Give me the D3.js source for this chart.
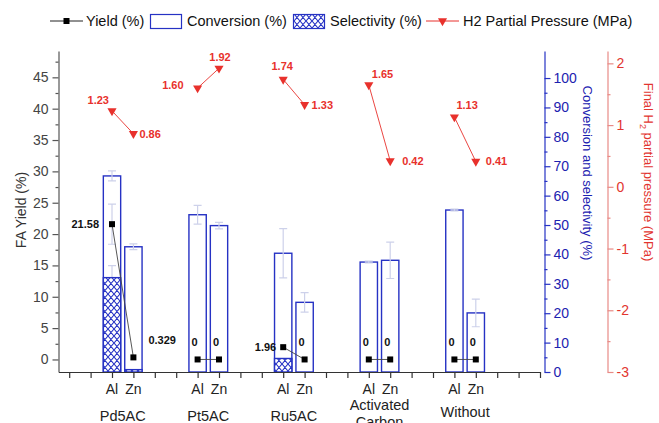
<!DOCTYPE html>
<html lang="en">
<head>
<meta charset="UTF-8">
<title>FA yield, conversion and H2 pressure</title>
<style>
body { margin: 0; background: #fff; }
svg { font-family: Arial, "Liberation Sans", sans-serif; }
</style>
</head>
<body>
<svg width="659" height="423"></svg>
<script src="https://cdn.jsdelivr.net/npm/d3@7/dist/d3.min.js"></script>
<script>

// data, one entry per catalyst group, each [Al, Zn]
var groups = ["Pd5AC", "Pt5AC", "Ru5AC", "Activated Carbon", "Without"];
var metals = ["Al", "Zn"];
var yieldVals = [[21.58, 0.329], [0, 0], [1.96, 0], [0, 0], [0, 0]];
var yieldErr = [[3.2, 0], [0, 0], [0, 0], [0, 0], [0, 0]];
var conversion = [[66.7, 42.6], [53.5, 49.8], [40.4, 23.7], [37.4, 38.0], [55.1, 20.1]];
var conversionErr = [[1.7, 1.0], [3.2, 1.1], [8.4, 3.3], [0.3, 6.2], [0.3, 4.7]];
var selectivity = [[32.1, 0.8], [0, 0], [4.6, 0], [0, 0], [0, 0]];
var selectivityErr = [[4.1, 0], [0, 0], [0, 0], [0, 0], [0, 0]];
var pressure = [[1.23, 0.86], [1.60, 1.92], [1.74, 1.33], [1.65, 0.42], [1.13, 0.41]];
var yieldLabels = [["21.58", "0.329"], ["0", "0"], ["1.96", "0"], ["0", "0"], ["0", "0"]];
var pressureLabels = [["1.23", "0.86"], ["1.60", "1.92"], ["1.74", "1.33"], ["1.65", "0.42"], ["1.13", "0.41"]];

var yieldTicks = d3.range(0, 46, 5);
var convTicks = d3.range(0, 101, 10);
var pressTicks = [-3, -2, -1, 0, 1, 2];

// label placement (dx, dy, anchor) per point
var yieldLabelPos = [[[-13, 0, "end"], [15, -17, "start"]], [[-6, -17, "start"], [-6, -17, "start"]],
                     [[-7, 0, "end"], [-6, -17, "start"]], [[-6, -17, "start"], [-6, -17, "start"]],
                     [[-6, -17, "start"], [-6, -17, "start"]]];
var pressLabelPos = [[[-3, -11, "end"], [6, 0, "start"]], [[-14, -3, "end"], [1, -11, "middle"]],
                     [[-1, -13, "middle"], [7, 0, "start"]], [[3, -11, "start"], [12, 0, "start"]],
                     [[2, -12, "start"], [10, 0, "start"]]];

var blue = "#2632c4", red = "#e8312c", errCol = "#cdd1ea";

var svg = d3.select("svg");
var plotTop = 51, plotBottom = 372;

var x = d3.scaleLinear().domain([-0.5, 22]).range([58.5, 540]);
var yL = d3.scaleLinear().domain([-2, 49.2]).range([plotBottom, plotTop]);
var yR = d3.scaleLinear().domain([0, 109.2]).range([plotBottom, plotTop]);
var yP = d3.scaleLinear().domain([-3, 2.2]).range([plotBottom, plotTop]);
var barW = 0.81 * (x(1) - x(0));

// flatten to points
var pts = [];
groups.forEach(function(g, gi) {
  metals.forEach(function(m, mi) {
    pts.push({g: gi, m: mi, pos: 2 + 4 * gi + mi,
      yield: yieldVals[gi][mi], yErr: yieldErr[gi][mi],
      conv: conversion[gi][mi], cErr: conversionErr[gi][mi],
      sel: selectivity[gi][mi], sErr: selectivityErr[gi][mi],
      p: pressure[gi][mi], yLab: yieldLabels[gi][mi], pLab: pressureLabels[gi][mi],
      yPos: yieldLabelPos[gi][mi], pPos: pressLabelPos[gi][mi]});
  });
});

var defs = svg.append("defs");
var pat = defs.append("pattern").attr("id", "hatch").attr("patternUnits", "userSpaceOnUse")
    .attr("width", 6).attr("height", 7);
pat.append("rect").attr("width", 6).attr("height", 7).attr("fill", "#fff");
pat.append("path").attr("d", "M0,0L6,7M6,0L0,7M-3,3.5L0,7M3,-3.5L6,0")
    .attr("stroke", blue).attr("stroke-width", 1.1).attr("fill", "none");

// conversion bars
svg.append("g").selectAll("rect").data(pts).enter().append("rect")
    .attr("x", function(d) { return x(d.pos) - barW / 2; })
    .attr("y", function(d) { return yR(d.conv); })
    .attr("width", barW)
    .attr("height", function(d) { return yR(0) - yR(d.conv); })
    .attr("fill", "#fff").attr("stroke", blue).attr("stroke-width", 1.4);

function errorBars(data, val, err, scale) {
  var g = svg.append("g").attr("stroke", errCol).attr("stroke-width", 1.2).attr("fill", "none");
  data = data.filter(function(d) { return d[err] > 0; });
  g.selectAll("path").data(data).enter().append("path")
    .attr("d", function(d) {
      var cx = x(d.pos), a = scale(d[val] + d[err]), b = scale(d[val] - d[err]);
      return "M" + (cx - 4) + "," + a + "H" + (cx + 4) + "M" + cx + "," + a + "V" + b +
             "M" + (cx - 4) + "," + b + "H" + (cx + 4);
    });
}
errorBars(pts, "conv", "cErr", yR);
errorBars(pts, "sel", "sErr", yR);

// selectivity hatch
svg.append("g").selectAll("rect").data(pts.filter(function(d) { return d.sel > 0; })).enter().append("rect")
    .attr("x", function(d) { return x(d.pos) - barW / 2; })
    .attr("y", function(d) { return yR(d.sel); })
    .attr("width", barW)
    .attr("height", function(d) { return yR(0) - yR(d.sel); })
    .attr("fill", "url(#hatch)").attr("stroke", blue).attr("stroke-width", 1.4);

errorBars(pts, "yield", "yErr", yL);

// yield lines and points
var yLine = d3.line().x(function(d) { return x(d.pos); }).y(function(d) { return yL(d.yield); });
var pLine = d3.line().x(function(d) { return x(d.pos); }).y(function(d) { return yP(d.p); });
groups.forEach(function(g, gi) {
  var gp = pts.filter(function(d) { return d.g === gi; });
  svg.append("path").attr("d", yLine(gp)).attr("stroke", "#444").attr("stroke-width", 0.9).attr("fill", "none");
  svg.append("path").attr("d", pLine(gp)).attr("stroke", red).attr("stroke-width", 0.9).attr("fill", "none");
});
svg.append("g").selectAll("rect").data(pts).enter().append("rect")
    .attr("x", function(d) { return x(d.pos) - 3; })
    .attr("y", function(d) { return yL(d.yield) - 3; })
    .attr("width", 6).attr("height", 6).attr("fill", "#000");

var tri = d3.symbol().type(d3.symbolTriangle).size(36);
svg.append("g").selectAll("path").data(pts).enter().append("path")
    .attr("d", tri)
    .attr("transform", function(d) { return "translate(" + x(d.pos) + "," + yP(d.p) + ") rotate(180)"; })
    .attr("fill", red);

// value labels
svg.append("g").attr("font-size", 11).attr("font-weight", "bold").attr("fill", "#111")
  .selectAll("text").data(pts).enter().append("text")
    .attr("x", function(d) { return x(d.pos) + d.yPos[0]; })
    .attr("y", function(d) { return yL(d.yield) + d.yPos[1]; })
    .attr("dy", "0.35em")
    .attr("text-anchor", function(d) { return d.yPos[2]; })
    .text(function(d) { return d.yLab; });
svg.append("g").attr("font-size", 11).attr("font-weight", "bold").attr("fill", red)
  .selectAll("text").data(pts).enter().append("text")
    .attr("x", function(d) { return x(d.pos) + d.pPos[0]; })
    .attr("y", function(d) { return yP(d.p) + d.pPos[1]; })
    .attr("dy", "0.35em")
    .attr("text-anchor", function(d) { return d.pPos[2]; })
    .text(function(d) { return d.pLab; });

// axes
function minor(ticks, step) { return ticks.map(function(t) { return t + step; }); }

function styleAxis(g, lineCol, textCol) {
  g.selectAll(".domain").attr("stroke", lineCol).attr("stroke-width", 1.2);
  g.selectAll(".tick line").attr("stroke", lineCol).attr("stroke-width", 1.2);
  g.selectAll(".tick text").attr("fill", textCol).attr("font-size", 14).attr("font-family", null);
}

var gL = svg.append("g").attr("transform", "translate(58.5,0)")
    .call(d3.axisLeft(yL).tickValues(yieldTicks).tickSize(6).tickSizeOuter(0).tickPadding(4));
styleAxis(gL, "#555", "#444");
svg.append("g").attr("transform", "translate(58.5,0)")
    .call(d3.axisLeft(yL).tickValues(minor(yieldTicks, 2.5)).tickSize(3).tickFormat(""))
    .call(function(g) { g.select(".domain").remove(); styleAxis(g, "#555", "#444"); });

var gX = svg.append("g").attr("transform", "translate(0," + plotBottom + ")")
    .call(d3.axisBottom(x).tickValues(d3.range(0, 23)).tickSize(6).tickSizeOuter(0).tickFormat(""));
styleAxis(gX, "#333", "#333");

var gB = svg.append("g").attr("transform", "translate(544.5,0)")
    .call(d3.axisRight(yR).tickValues(convTicks).tickSize(6).tickSizeOuter(0).tickPadding(3));
styleAxis(gB, blue, "#1c22b0");
svg.append("g").attr("transform", "translate(544.5,0)")
    .call(d3.axisRight(yR).tickValues(minor(convTicks.slice(0, 10), 5)).tickSize(3).tickFormat(""))
    .call(function(g) { g.select(".domain").remove(); styleAxis(g, blue, blue); });

var gP = svg.append("g").attr("transform", "translate(607.5,0)")
    .call(d3.axisRight(yP).tickValues(pressTicks).tickSize(6).tickSizeOuter(0).tickPadding(3)
      .tickFormat(function(d) { return String(d); }));
styleAxis(gP, "#e88a86", "#e2352f");
svg.append("g").attr("transform", "translate(607.5,0)")
    .call(d3.axisRight(yP).tickValues(minor(pressTicks.slice(0, 5), 0.5)).tickSize(3).tickFormat(""))
    .call(function(g) { g.select(".domain").remove(); styleAxis(g, "#e88a86", "#e88a86"); });

// axis titles
svg.append("text").attr("transform", "translate(26,210) rotate(-90)")
    .attr("text-anchor", "middle").attr("font-size", 14).attr("fill", "#333").text("FA Yield (%)");
svg.append("text").attr("transform", "translate(583,173) rotate(90)")
    .attr("text-anchor", "middle").attr("font-size", 13).attr("fill", "#1c22b0").text("Conversion and selectivity (%)");
var rt = svg.append("text").attr("transform", "translate(644,172) rotate(90)")
    .attr("text-anchor", "middle").attr("font-size", 13).attr("fill", "#e2352f");
rt.append("tspan").text("Final H");
rt.append("tspan").attr("font-size", 9).attr("dy", 4).text("2");
rt.append("tspan").attr("dy", -4).text(" partial pressure (MPa)");

// category labels
svg.append("g").attr("font-size", 14).attr("fill", "#222").attr("text-anchor", "middle")
  .selectAll("text").data(pts).enter().append("text")
    .attr("x", function(d) { return x(d.pos); })
    .attr("y", 394)
    .text(function(d) { return metals[d.m]; });
var groupBase = [421, 421, 421, 410, 417];
groups.forEach(function(g, gi) {
  var t = svg.append("text").attr("font-size", 14.5).attr("fill", "#222").attr("text-anchor", "middle")
      .attr("x", x(2.5 + 4 * gi)).attr("y", groupBase[gi]);
  g.split(" ").forEach(function(w, wi) {
    t.append("tspan").attr("x", x(2.5 + 4 * gi)).attr("dy", wi ? 17 : 0).text(w);
  });
});

// legend
var lg = svg.append("g").attr("font-size", 14.5).attr("fill", "#111");
lg.append("path").attr("d", "M50,21H83").attr("stroke", "#222").attr("stroke-width", 1);
lg.append("rect").attr("x", 63.5).attr("y", 18).attr("width", 6).attr("height", 6).attr("fill", "#000");
lg.append("text").attr("x", 86).attr("y", 26).text("Yield (%)");
lg.append("rect").attr("x", 150.5).attr("y", 14.5).attr("width", 31).attr("height", 14)
    .attr("fill", "#fff").attr("stroke", blue).attr("stroke-width", 1.2);
lg.append("text").attr("x", 187).attr("y", 26).text("Conversion (%)");
lg.append("rect").attr("x", 293.5).attr("y", 14.5).attr("width", 31).attr("height", 14)
    .attr("fill", "url(#hatch)").attr("stroke", blue).attr("stroke-width", 1.2);
lg.append("text").attr("x", 330).attr("y", 26).text("Selectivity (%)");
lg.append("path").attr("d", "M426,21H459").attr("stroke", red).attr("stroke-width", 1);
lg.append("path").attr("d", tri).attr("transform", "translate(442.5,21) rotate(180)").attr("fill", red);
lg.append("text").attr("x", 463).attr("y", 26).text("H2 Partial Pressure (MPa)");

</script>
</body>
</html>
